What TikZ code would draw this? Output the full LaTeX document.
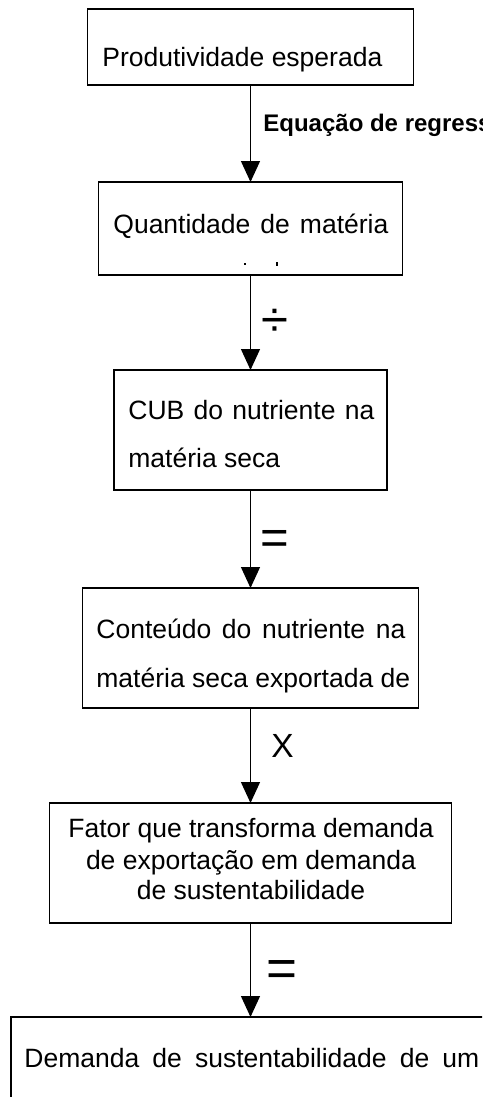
\documentclass[tikz,border=0pt]{standalone}
\usepackage{fontspec}
\setmainfont{Liberation Sans}
\usetikzlibrary{arrows.meta}

\begin{document}
\begin{tikzpicture}[x=0.5pt,y=-0.5pt,>={Triangle[length=10.5pt,width=9.5pt]},
  caixa/.style={draw,line width=0.9pt,inner sep=0pt,outer sep=0pt},
  seta/.style={->,line width=0.7pt},
  texto/.style={anchor=base west,inner sep=0pt,font=\fontsize{13.25}{15.5}\selectfont},
  sinal/.style={anchor=base,inner sep=0pt}]

\useasboundingbox (0,0) rectangle (482,1097);
\clip (0,0) rectangle (482,1097);

%------------------------
% Boxes
%------------------------
\node[caixa,minimum width=163pt,minimum height=38pt] (prod) at (250.5,47) {};
\node[caixa,minimum width=152pt,minimum height=46.5pt] (quant) at (250.5,228.5) {};
\node[caixa,minimum width=136.5pt,minimum height=60pt] (cub) at (250.5,430) {};
\node[caixa,minimum width=168pt,minimum height=60pt] (cont) at (250.5,648) {};
\node[caixa,minimum width=201pt,minimum height=60pt] (fator) at (250.5,863) {};
\node[caixa,minimum width=239.5pt,minimum height=65pt] (dem) at (250.5,1082) {};

%------------------------
% Texts in the boxes
%------------------------
\node[texto] (tprod) at (102,67) {Produtividade esperada};

\node[texto] (tquant) at (113,233) {\makebox[137.5pt][s]{Quantidade de matéria}};
% second line hidden under the box edge
\fill (244,263) rectangle (245.5,264.5);
\fill (275.5,262) rectangle (277.5,265.5);

\node[texto] (tcuba) at (128,419) {\makebox[123pt][s]{CUB do nutriente na}};
\node[texto] (tcubb) at (128,467) {matéria seca};

\node[texto] (tconta) at (96,638) {\makebox[154.5pt][s]{Conteúdo do nutriente na}};
\node[texto] (tcontb) at (96,687) {matéria seca exportada de};

\node[texto,anchor=base] (tfatora) at (251,837) {Fator que transforma demanda};
\node[texto,anchor=base] (tfatorb) at (251,869) {de exportação em demanda};
\node[texto,anchor=base] (tfatorc) at (251,899) {de sustentabilidade};

\node[texto] (tdem) at (24,1067) {\makebox[227.5pt][s]{Demanda de sustentabilidade de um}};

%------------------------
% Arrows
%------------------------
\draw[seta] (prod) -- (quant);
\draw[seta] (quant) -- (cub);
\draw[seta] (cub) -- (cont);
\draw[seta] (cont) -- (fator);
\draw[seta] (fator) -- (dem);

%------------------------
% Labels on the arrows
%------------------------
\node[anchor=base west,inner sep=0pt,font=\fontsize{12}{14}\selectfont\bfseries] (eqreg) at (263,132) {Equação de regressão};
\node[sinal,font=\fontsize{24.5}{26}\selectfont] (div) at (275,336) {÷};
\node[sinal,font=\fontsize{24.5}{26}\selectfont] (iguala) at (275,554) {=};
\node[sinal,font=\fontsize{16.75}{18}\selectfont] (vezes) at (282.5,757) {X};
\node[sinal,font=\fontsize{26.5}{28}\selectfont] (igualb) at (282,986.5) {=};

\end{tikzpicture}
\end{document}
